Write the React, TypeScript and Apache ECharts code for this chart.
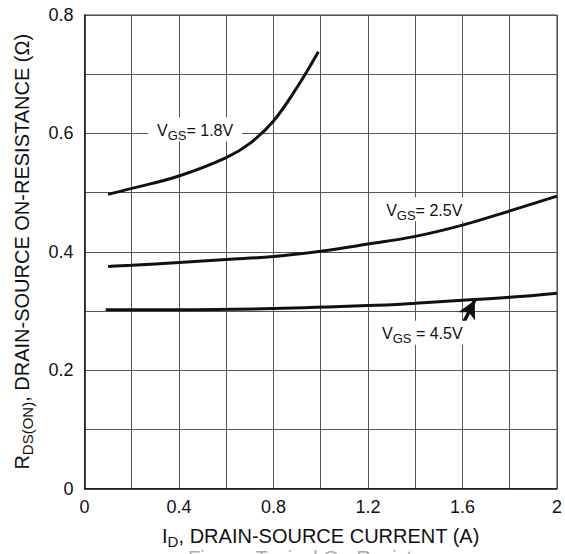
import React, { useEffect, useRef } from "react";
import * as echarts from "echarts";

const xTickLabels = ["0", "0.4", "0.8", "1.2", "1.6", "2"];
const yTickLabels = ["0", "0.2", "0.4", "0.6", "0.8"];

const vgs18: [number, number][] = [
  [0.1, 0.497], [0.2, 0.507], [0.4, 0.528], [0.6, 0.559], [0.7, 0.583],
  [0.8, 0.621], [0.9, 0.678], [0.99, 0.738],
];
const vgs25: [number, number][] = [
  [0.1, 0.375], [0.2, 0.377], [0.4, 0.382], [0.6, 0.387], [0.8, 0.392],
  [1.0, 0.401], [1.2, 0.413], [1.4, 0.426], [1.6, 0.445], [1.8, 0.469], [2.0, 0.494],
];
const vgs45: [number, number][] = [
  [0.09, 0.302], [0.4, 0.302], [0.8, 0.304], [1.2, 0.309], [1.4, 0.313],
  [1.6, 0.318], [1.8, 0.323], [2.0, 0.330],
];

const labelTexts = ["= 1.8V", "= 2.5V", " = 4.5V"];
const labelPos: [number, number][] = [[0.468, 0.607], [1.438, 0.472], [1.43, 0.263]];
const arrowFrom: [number, number] = [1.603, 0.279];
const arrowTo: [number, number] = [1.652, 0.318];

const FONT = "'Liberation Sans', Arial, sans-serif";

const richSub = {
  n: { fontSize: 16, fontFamily: FONT, color: "#111", lineHeight: 18 },
  s: { fontSize: 13, fontFamily: FONT, color: "#111", lineHeight: 13, padding: [10, 0, 0, 0] },
};

function markLabel(i: number) {
  return {
    symbol: "rect",
    symbolSize: 0,
    silent: true,
    data: [
      {
        coord: labelPos[i],
        label: {
          show: true,
          position: "inside",
          formatter: `{n|V}{s|GS}{n|${labelTexts[i]}}`,
          backgroundColor: "#fff",
          padding: [4, 9, 2, 9],
          rich: richSub,
        },
      },
    ],
  };
}

function findLabel(list: string[], v: number) {
  const l = list.find((t) => Math.abs(Number(t) - v) < 1e-6);
  return l === undefined ? "" : l;
}

export default function App() {
  const ref = useRef<HTMLDivElement>(null);
  useEffect(() => {
    if (!ref.current) return;
    const chart = echarts.init(ref.current, undefined, { renderer: "svg" });
    const lineStyle = { color: "#111", width: 3 };
    chart.setOption({
      animation: false,
      backgroundColor: "#fff",
      grid: {
        left: 83,
        top: 15,
        width: 479,
        height: 479,
        show: true,
        borderColor: "#333",
        borderWidth: 1,
      },
      xAxis: {
        type: "value",
        min: 0,
        max: 2,
        interval: 0.2,
        axisLine: { show: true, lineStyle: { color: "#111", width: 1.5 } },
        axisTick: { show: false },
        splitLine: { show: true, lineStyle: { color: "#555", width: 1 } },
        axisLabel: {
          margin: 9,
          fontSize: 18,
          fontFamily: FONT,
          color: "#111",
          formatter: (v: number) => findLabel(xTickLabels, v),
        },
        name: "{n|I}{s|D}{n|, DRAIN-SOURCE CURRENT (A)}",
        nameLocation: "middle",
        nameGap: 36,
        nameTextStyle: {
          rich: {
            n: { fontSize: 20, fontFamily: FONT, color: "#111", lineHeight: 22 },
            s: { fontSize: 15, fontFamily: FONT, color: "#111", lineHeight: 15, padding: [12, 0, 0, 0] },
          },
        },
      },
      yAxis: {
        type: "value",
        min: 0,
        max: 0.8,
        interval: 0.1,
        axisLine: { show: true, lineStyle: { color: "#111", width: 1.5 } },
        axisTick: { show: false },
        splitLine: { show: true, lineStyle: { color: "#555", width: 1 } },
        axisLabel: {
          margin: 11,
          fontSize: 18,
          fontFamily: FONT,
          color: "#111",
          formatter: (v: number) => findLabel(yTickLabels, v),
        },
        name: "{n|R}{s|DS(ON)}{n|, DRAIN-SOURCE ON-RESISTANCE (Ω)}",
        nameLocation: "middle",
        nameRotate: 90,
        nameGap: 52,
        nameTextStyle: {
          rich: {
            n: { fontSize: 20, fontFamily: FONT, color: "#111", lineHeight: 22 },
            s: { fontSize: 15, fontFamily: FONT, color: "#111", lineHeight: 15, padding: [12, 0, 0, 0] },
          },
        },
      },
      graphic: [
        {
          type: "text",
          left: 188,
          top: 548,
          silent: true,
          style: {
            text: "Figure  Typical On-Resistance",
            fontSize: 20,
            fontFamily: FONT,
            fill: "#aaa",
          },
        },
      ],
      series: [
        {
          type: "line",
          data: vgs18,
          smooth: 0.4,
          showSymbol: false,
          lineStyle,
          markPoint: markLabel(0),
        },
        {
          type: "line",
          data: vgs25,
          smooth: 0.4,
          showSymbol: false,
          lineStyle,
          markPoint: markLabel(1),
        },
        {
          type: "line",
          data: vgs45,
          smooth: 0.4,
          showSymbol: false,
          lineStyle,
          markPoint: markLabel(2),
          markLine: {
            silent: true,
            symbol: ["none", "arrow"],
            symbolSize: [14, 18],
            label: { show: false },
            lineStyle: { color: "#111", width: 3.5, type: "solid" },
            data: [[{ coord: arrowFrom }, { coord: arrowTo }]],
          },
        },
      ],
    });
    return () => chart.dispose();
  }, []);
  return (
    <div
      ref={ref}
      style={{ position: "fixed", left: 0, top: 0, width: 565, height: 554 }}
    />
  );
}
